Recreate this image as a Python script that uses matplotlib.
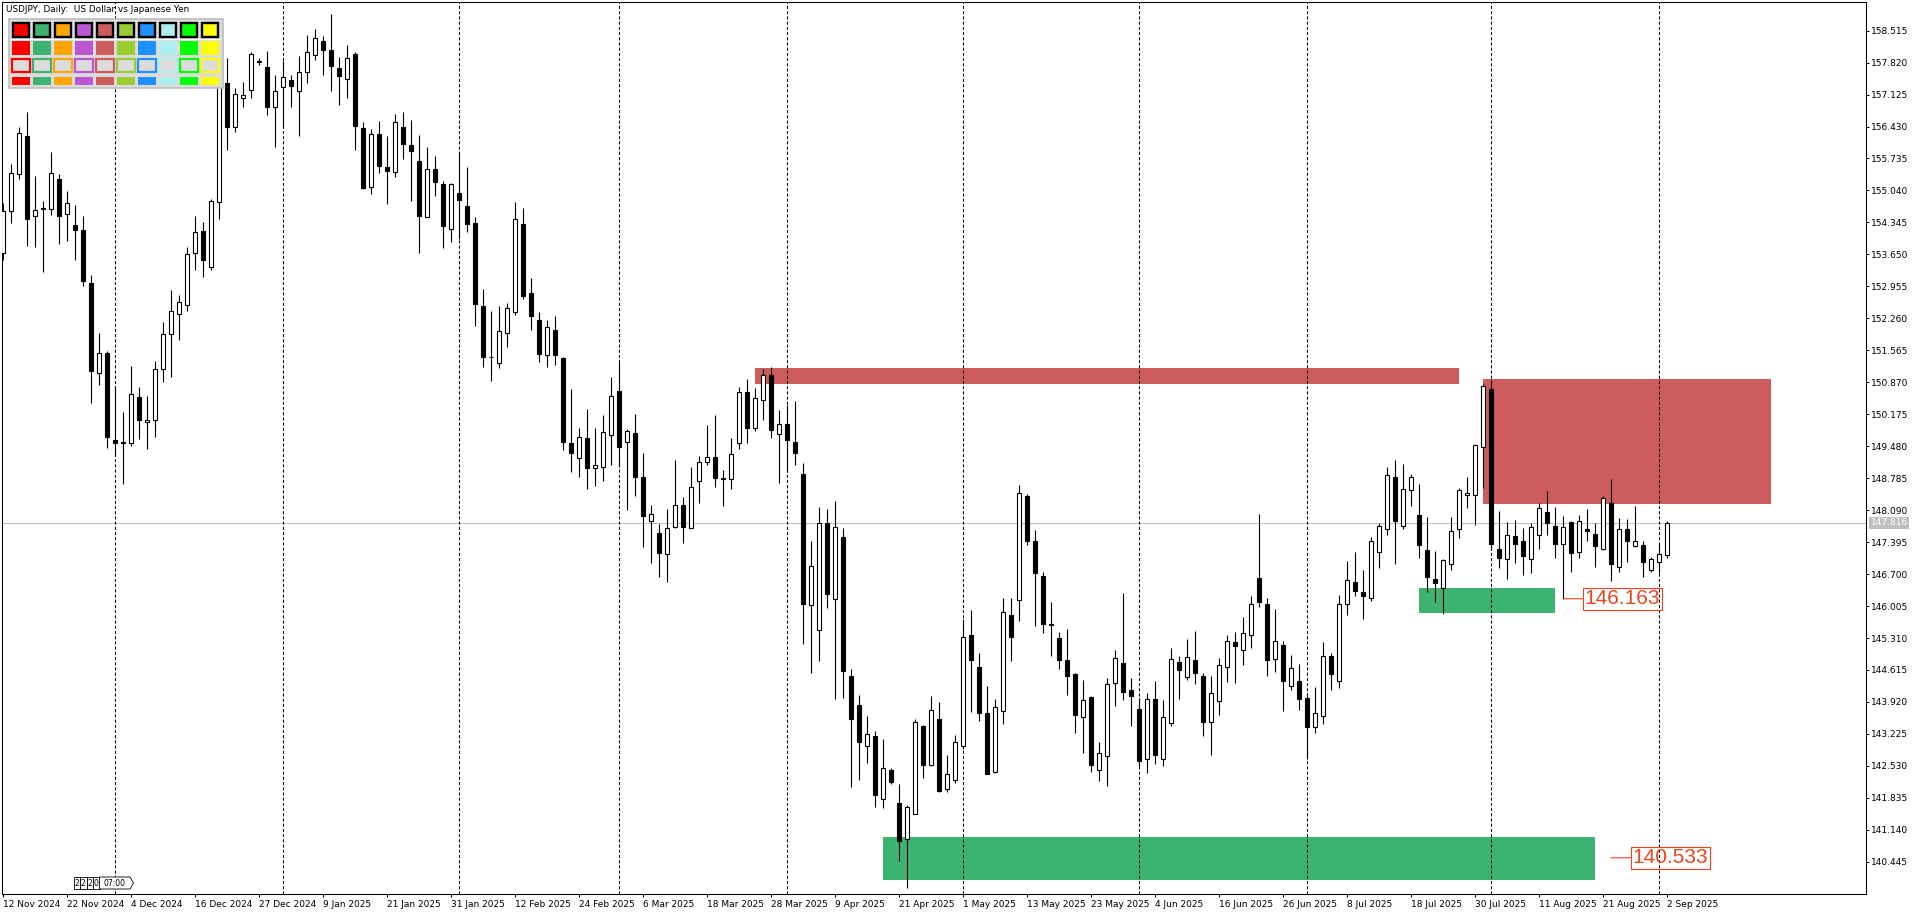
import matplotlib
matplotlib.use("Agg")
import matplotlib.pyplot as plt
import matplotlib.transforms as mtransforms
from matplotlib.patches import Rectangle, Polygon
import numpy as np
import pandas as pd

plt.rcParams['font.family'] = ['DejaVu Sans']

TITLE = "USDJPY, Daily:  US Dollar vs Japanese Yen"
FIRST_DAY = "2024-11-12"
HOLIDAYS = ["2024-12-25", "2025-01-01"]

# daily OHLC, one value per bar
opens = [
    153.67, 154.59, 155.40, 156.22, 154.48, 154.63, 154.63, 155.30, 154.52, 154.28,
    154.19, 153.02, 151.08, 151.50, 149.61, 149.54, 149.56, 150.55, 150.00, 150.05,
    151.15, 151.91, 152.35, 152.56, 153.67, 154.15, 153.38, 154.78, 157.37, 156.41,
    157.06, 157.22, 157.84, 157.72, 156.85, 157.28, 157.45, 157.20, 157.61, 157.99,
    158.28, 158.09, 157.71, 157.46, 158.00, 156.39, 155.11, 156.26, 155.56, 155.45,
    156.42, 156.02, 155.68, 154.46, 155.50, 155.17, 154.21, 154.98, 154.70, 154.34,
    152.53, 151.43, 151.28, 151.94, 152.39, 154.30, 152.82, 152.22, 151.47, 152.00,
    151.40, 149.56, 149.22, 149.65, 149.01, 149.03, 149.72, 150.69, 149.57, 149.77,
    148.82, 147.85, 147.60, 147.13, 147.72, 148.20, 147.70, 148.72, 149.13, 149.25,
    148.78, 148.76, 149.56, 150.65, 149.87, 150.49, 151.02, 149.74, 149.96, 149.58,
    148.88, 146.02, 145.48, 147.81, 146.15, 147.51, 144.49, 143.86, 142.97, 143.17,
    141.80, 142.43, 141.73, 140.93, 141.48, 143.39, 142.55, 143.54, 142.02, 142.23,
    142.96, 145.38, 144.67, 143.67, 142.40, 143.72, 145.80, 146.13, 148.40, 147.42,
    146.65, 145.61, 145.30, 144.83, 144.52, 143.59, 144.03, 142.43, 142.74, 144.33,
    144.77, 144.18, 143.77, 142.67, 143.98, 142.69, 143.46, 144.78, 144.46, 144.83,
    144.48, 143.48, 143.93, 144.69, 145.22, 145.06, 145.37, 146.62, 146.06, 144.85,
    145.15, 144.26, 144.37, 144.00, 143.38, 143.61, 144.92, 144.37, 146.04, 146.52,
    146.30, 146.17, 147.17, 147.69, 148.80, 147.74, 148.52, 147.98, 147.22, 146.59,
    146.40, 146.93, 147.67, 148.41, 148.41, 149.46, 150.72, 147.24, 147.02, 147.52,
    147.41, 147.02, 147.56, 148.04, 147.74, 147.35, 147.83, 147.19, 147.69, 147.57,
    147.25, 148.25, 146.85, 147.67, 147.30, 147.33, 146.78, 146.96, 147.11,
]
highs = [
    154.77, 155.62, 156.42, 156.74, 155.35, 154.80, 155.87, 155.40, 155.03, 154.72,
    154.48, 153.21, 151.95, 151.55, 150.79, 150.22, 151.22, 150.76, 150.58, 151.34,
    152.17, 152.87, 152.77, 153.80, 154.48, 154.35, 154.85, 157.46, 157.91, 157.26,
    157.39, 158.06, 157.93, 158.07, 157.54, 157.85, 157.56, 157.96, 158.41, 158.55,
    158.40, 158.87, 157.95, 158.20, 158.06, 156.52, 156.38, 156.56, 156.22, 156.70,
    156.74, 156.57, 156.25, 155.99, 155.79, 155.24, 155.21, 155.87, 155.54, 154.46,
    152.90, 152.42, 152.53, 152.59, 154.78, 154.65, 153.14, 152.39, 152.22, 152.31,
    151.42, 150.73, 149.88, 150.28, 149.87, 150.15, 150.99, 151.31, 149.86, 150.19,
    149.33, 148.21, 147.79, 148.12, 149.18, 148.38, 149.03, 149.27, 149.95, 150.15,
    148.97, 149.66, 150.76, 150.94, 150.75, 151.15, 151.21, 150.26, 150.37, 150.46,
    149.12, 147.42, 148.15, 148.12, 148.28, 147.70, 144.63, 144.07, 143.61, 143.28,
    143.11, 142.49, 142.13, 141.67, 143.56, 143.42, 144.04, 143.91, 142.76, 143.20,
    145.72, 145.92, 144.99, 144.27, 143.98, 146.19, 146.19, 148.64, 148.45, 147.66,
    146.75, 146.09, 145.44, 145.51, 144.56, 144.40, 144.06, 143.05, 144.43, 145.06,
    146.29, 144.43, 144.01, 144.12, 144.38, 143.96, 145.09, 144.93, 145.29, 145.46,
    144.54, 144.48, 144.88, 145.38, 145.44, 145.77, 146.22, 148.01, 146.17, 145.94,
    145.25, 144.94, 144.75, 144.11, 144.24, 145.22, 144.99, 146.25, 146.98, 147.18,
    146.79, 147.50, 147.80, 149.03, 149.19, 149.09, 148.88, 148.66, 147.94, 147.20,
    147.03, 147.94, 148.57, 148.81, 149.53, 150.83, 150.92, 148.07, 147.83, 147.88,
    147.70, 147.80, 148.24, 148.51, 148.16, 147.96, 147.86, 147.98, 148.11, 147.80,
    148.40, 148.76, 147.93, 147.89, 148.18, 147.41, 147.08, 147.36, 147.85,
]
lows = [
    153.53, 154.33, 155.30, 153.84, 153.82, 153.27, 154.51, 153.88, 153.95, 153.53,
    152.97, 150.43, 150.82, 149.45, 149.30, 148.65, 149.49, 149.64, 149.41, 149.67,
    150.88, 150.99, 151.78, 152.43, 153.32, 153.15, 153.32, 154.43, 155.92, 156.32,
    156.86, 157.06, 157.76, 156.67, 155.99, 156.43, 156.86, 156.23, 157.37, 157.88,
    157.56, 157.21, 156.90, 157.05, 155.93, 155.08, 154.96, 155.41, 154.75, 155.33,
    155.72, 154.81, 153.69, 154.46, 154.93, 153.78, 153.91, 153.99, 154.14, 152.10,
    151.21, 150.90, 151.17, 151.63, 152.33, 152.69, 152.01, 151.32, 151.21, 151.24,
    149.39, 148.91, 148.82, 148.55, 148.61, 148.73, 149.08, 149.04, 148.09, 148.39,
    147.29, 146.94, 146.63, 146.52, 147.70, 147.38, 147.70, 148.24, 149.08, 148.59,
    148.17, 148.56, 149.43, 149.54, 149.82, 150.04, 149.65, 148.69, 148.91, 149.08,
    145.18, 144.54, 144.81, 145.96, 143.98, 144.00, 142.08, 142.23, 142.60, 141.64,
    141.62, 142.13, 140.46, 139.88, 141.48, 142.27, 142.53, 141.96, 141.96, 142.15,
    142.90, 143.71, 143.51, 142.35, 142.38, 143.43, 144.80, 145.69, 147.34, 145.58,
    145.41, 144.91, 144.64, 144.08, 143.25, 142.80, 142.40, 142.21, 142.10, 143.84,
    143.96, 143.40, 142.53, 142.37, 142.58, 142.52, 143.40, 143.98, 144.39, 144.30,
    143.17, 142.77, 143.64, 144.36, 144.33, 144.72, 145.10, 145.99, 144.49, 144.58,
    143.73, 144.17, 143.75, 142.68, 143.25, 143.43, 144.17, 144.22, 145.80, 146.23,
    145.73, 146.12, 146.84, 147.54, 146.91, 147.69, 148.17, 147.06, 146.30, 146.09,
    145.84, 146.79, 147.49, 148.14, 147.77, 148.58, 147.22, 146.84, 146.60, 146.95,
    146.67, 146.72, 147.25, 147.56, 147.06, 146.163, 146.74, 147.06, 147.43, 146.86,
    147.22, 146.56, 146.75, 146.97, 147.28, 146.64, 146.75, 146.72, 147.04,
]
closes = [
    154.60, 155.43, 156.28, 154.41, 154.61, 154.65, 155.41, 154.49, 154.76, 154.19,
    153.08, 151.11, 151.50, 149.67, 149.54, 149.58, 150.61, 150.06, 150.05, 151.15,
    151.93, 152.43, 152.62, 153.65, 154.13, 153.52, 154.82, 157.42, 156.43, 157.13,
    157.11, 158.00, 157.86, 156.85, 157.21, 157.51, 157.31, 157.62, 158.06, 158.36,
    158.10, 157.74, 157.52, 157.93, 156.45, 155.10, 156.26, 155.58, 155.47, 156.52,
    156.04, 155.90, 154.49, 155.50, 155.23, 154.27, 155.17, 154.84, 154.30, 152.58,
    151.42, 151.41, 151.98, 152.48, 154.41, 152.74, 152.32, 151.49, 152.07, 151.47,
    149.58, 149.33, 149.69, 149.00, 149.08, 149.78, 150.57, 149.47, 149.80, 148.80,
    147.96, 148.01, 147.15, 147.70, 148.20, 147.73, 148.59, 149.14, 149.25, 148.78,
    148.76, 149.31, 150.65, 149.87, 150.52, 151.02, 149.84, 149.96, 149.61, 149.34,
    146.04, 146.87, 147.81, 146.27, 147.72, 144.60, 143.55, 143.06, 143.23, 141.89,
    142.49, 142.17, 140.89, 141.63, 143.48, 142.55, 143.74, 141.99, 142.36, 143.05,
    145.33, 144.84, 143.69, 142.36, 143.80, 145.87, 145.34, 148.46, 147.43, 146.73,
    145.62, 145.60, 144.84, 144.49, 143.64, 143.96, 142.54, 142.80, 144.30, 144.87,
    144.13, 144.04, 142.64, 143.98, 142.76, 143.59, 144.85, 144.61, 144.89, 144.56,
    143.48, 144.11, 144.72, 145.24, 145.13, 145.41, 146.06, 146.10, 144.84, 145.24,
    144.38, 144.65, 143.99, 143.38, 143.67, 144.92, 144.52, 146.04, 146.57, 146.33,
    146.22, 147.41, 147.75, 148.85, 147.86, 148.56, 148.81, 147.34, 146.64, 146.50,
    147.00, 147.63, 148.52, 148.46, 149.50, 150.78, 147.35, 147.04, 147.54, 147.35,
    147.10, 147.72, 148.13, 147.82, 147.36, 147.72, 147.15, 147.85, 147.64, 147.32,
    148.35, 146.93, 147.69, 147.41, 147.41, 146.96, 147.02, 147.14, 147.816,
]

# supply / demand rectangles
zone_starts = ["2025-03-26", "2025-07-31", "2025-07-21", "2025-04-17"]
zone_ends = ["2025-07-28", "2025-09-19", "2025-08-13", "2025-08-20"]
zone_lows = [150.83, 148.22, 145.85, 140.05]
zone_highs = [151.18, 150.95, 146.40, 140.98]
zone_colors = ["#CD5C5C", "#CD5C5C", "#3CB371", "#3CB371"]

# price tags
label_dates = ["2025-08-14", "2025-08-22"]
label_prices = [146.163, 140.533]
LABEL_COLOR = "#E8461E"

panel_colors = ["#FF0000", "#3CB371", "#FFA500", "#BA55D3", "#CD5C5C",
                "#9ACD32", "#1E90FF", "#AFEEEE", "#00FF00", "#FFFF00"]

Y_TICK_START, Y_TICK_STEP, Y_TICK_COUNT = 140.445, 0.695, 27
X_TICK_EVERY = 8

# trading calendar (bars), extended into the future for the zones
days = pd.bdate_range(FIRST_DAY, periods=260)
days = days[~days.isin(pd.to_datetime(HOLIDAYS))]
n = len(closes)
bar_days = days[:n]
day_pos = {d.strftime("%Y-%m-%d"): i for i, d in enumerate(days)}

fig = plt.figure(figsize=(19.2, 9.15), dpi=100)
ax = fig.add_axes([2 / 1920, 21 / 915, 1864 / 1920, 892.5 / 915])
ax.set_xlim(-0.125, 232.875)
ax.set_ylim(139.745, 159.148)

x = np.arange(n)
o = np.array(opens)
h = np.array(highs)
l = np.array(lows)
c = np.array(closes)
up = c >= o

# current price line
ax.axhline(c[-1], color="#C0C0C0", lw=0.75, zorder=1)

for s, e, lo, hi, col in zip(zone_starts, zone_ends, zone_lows, zone_highs, zone_colors):
    i0, i1 = day_pos[s], day_pos[e]
    ax.add_patch(Rectangle((i0, lo), i1 - i0, hi - lo, facecolor=col, edgecolor="none", zorder=2))

# monthly period separators
for i in range(1, n):
    if bar_days[i].month != bar_days[i - 1].month:
        ax.axvline(i, color="black", lw=0.75, ls=(0, (3, 2)), zorder=3)

ax.vlines(x, l, h, color="black", lw=0.8, zorder=4)
ax.bar(x, np.abs(c - o), bottom=np.minimum(o, c), width=0.55,
       color=np.where(up, "white", "black"), edgecolor="black", linewidth=0.8, zorder=5)

for d, p in zip(label_dates, label_prices):
    ax.annotate(f"{p:.3f}", xy=(day_pos[d], p), xytext=(15.5, 0), textcoords="offset points",
                ha="left", va="center", fontsize=15, family="Liberation Sans", color=LABEL_COLOR,
                bbox=dict(boxstyle="square,pad=0.08", fc="none", ec=LABEL_COLOR, lw=0.8),
                arrowprops=dict(arrowstyle="-", color=LABEL_COLOR, lw=0.8, shrinkA=0, shrinkB=0),
                zorder=6)

# axes
yticks = [Y_TICK_START + Y_TICK_STEP * k for k in range(Y_TICK_COUNT)]
ax.yaxis.tick_right()
ax.set_yticks(yticks)
ax.set_yticklabels([f"{v:.3f}" for v in yticks])
xt = list(range(0, n, X_TICK_EVERY))
ax.set_xticks(xt)
ax.set_xticklabels([f"{bar_days[i].day} {bar_days[i]:%b %Y}" for i in xt], ha="left")
ax.tick_params(axis="y", length=2.5, width=0.75, pad=1, labelsize=6.5)
ax.tick_params(axis="x", length=2.5, width=0.75, pad=1.5, labelsize=6.5)
for sp in ax.spines.values():
    sp.set_linewidth(0.75)
    sp.set_color("black")

trans = mtransforms.blended_transform_factory(ax.transAxes, ax.transData)
ax.text(1.0025, c[-1], f"{c[-1]:.3f}", transform=trans, ha="left", va="center",
        fontsize=6.5, color="white", clip_on=False, zorder=7,
        bbox=dict(boxstyle="square,pad=0.15", fc="#C0C0C0", ec="none"))

# overlay in pixel units: title, colour panel, bar timer
ov = fig.add_axes([0, 0, 1, 1], zorder=10)
ov.set_xlim(0, 1920)
ov.set_ylim(915, 0)
ov.axis("off")

ov.text(6, 9, TITLE, fontsize=6.4, va="center", ha="left")
ov.add_patch(Rectangle((8.5, 18.5), 214, 69, facecolor="#DCDCDC", edgecolor="#BEBEBE", lw=1.2))
ov.hlines(38.8, 10, 221, color="white", lw=0.8)
for k, col in enumerate(panel_colors):
    x0 = 12.5 + 21 * k
    ov.add_patch(Rectangle((x0, 22.5), 16.5, 14, facecolor=col, edgecolor="black", lw=1.7))
    ov.add_patch(Rectangle((x0 - 0.7, 40.8), 18, 14, facecolor=col, edgecolor="none"))
    ov.add_patch(Rectangle((x0 - 0.2, 58.5), 17.2, 13, facecolor="#DCDCDC", edgecolor=col, lw=1.6))
    ov.add_patch(Rectangle((x0 - 0.7, 77), 18, 8, facecolor=col, edgecolor="none"))

for k, ch in enumerate("2220"):
    bx = 73.5 + 6.5 * k
    ov.add_patch(Rectangle((bx, 877), 6.5, 12, facecolor="white", edgecolor="black", lw=0.6))
    ov.text(bx + 3.25, 883.3, ch, fontsize=5.5, ha="center", va="center")
ov.add_patch(Polygon([(99.5, 877), (130, 877), (133.5, 883), (130, 889), (99.5, 889)],
                     closed=True, facecolor="white", edgecolor="black", lw=0.6))
ov.text(115, 883.3, "07:00", fontsize=5.5, ha="center", va="center")

fig.savefig("out.png", dpi=100)
